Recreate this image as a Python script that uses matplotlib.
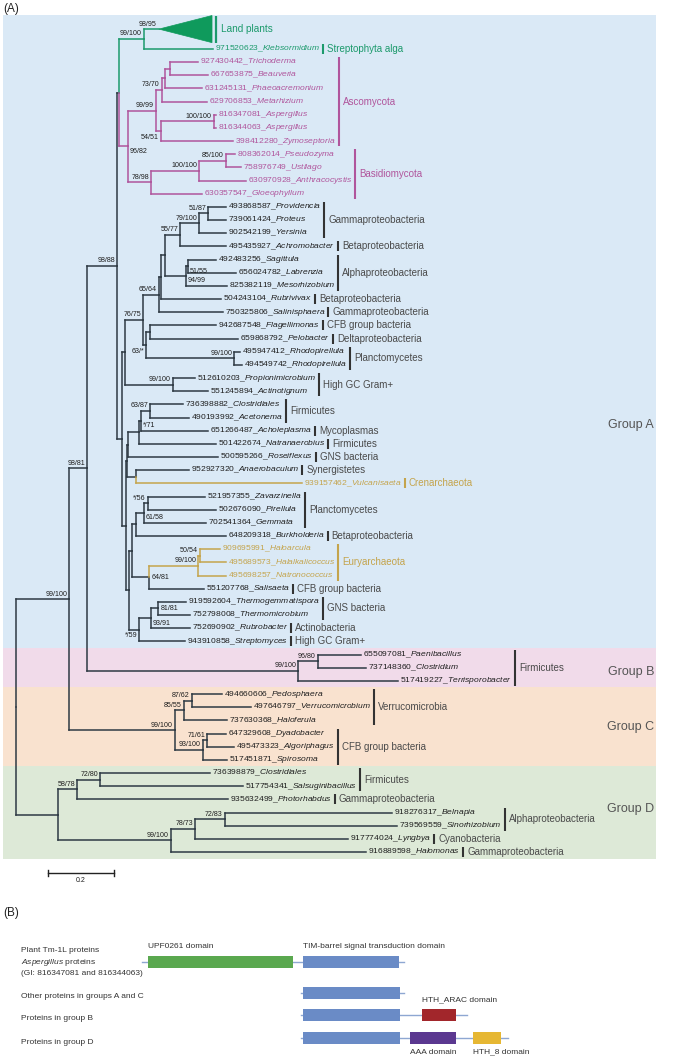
import matplotlib
matplotlib.use("Agg")
import matplotlib.pyplot as plt
from matplotlib.patches import Rectangle, Polygon
from matplotlib.collections import LineCollection
from collections import defaultdict

plt.rcParams["font.family"] = ["Liberation Sans", "DejaVu Sans"]
plt.rcParams["mathtext.fontset"] = "custom"
plt.rcParams["mathtext.rm"] = "Liberation Sans"
plt.rcParams["mathtext.it"] = "Liberation Sans:italic"

# ============================ DATA ============================
# Leaves, top to bottom (accession, genus), parent node and cumulative distance from root
leaf_acc = ["Land plants", "971520623", "927430442", "667653875", "631245131", "629706853",
            "816347081", "816344063", "398412280", "808362014", "758976749", "630970928",
            "630357547", "493868587", "739061424", "902542199", "495435927", "492483256",
            "656024782", "825382119", "504243104", "750325806", "942687548", "659868792",
            "495947412", "494549742", "512610203", "551245894", "736398882", "490193992",
            "651266487", "501422674", "500595266", "952927320", "939157462", "521957355",
            "502676090", "702541364", "648209318", "909695991", "495689573", "495698257",
            "551207768", "919592604", "752798008", "752690902", "943910858", "655097081",
            "737148360", "517419227", "494660606", "497646797", "737630368", "647329608",
            "495473323", "517451871", "736398879", "517754341", "935632499", "918276317",
            "739569559", "917774024", "916889598"]
leaf_genus = ["Land plants", "Klebsormidium", "Trichoderma", "Beauveria", "Phaeoacremonium",
              "Metarhizium", "Aspergillus", "Aspergillus", "Zymoseptoria", "Pseudozyma",
              "Ustilago", "Anthracocystis", "Gloeophyllum", "Providencia", "Proteus", "Yersinia",
              "Achromobacter", "Sagittula", "Labrenzia", "Mesorhizobium", "Rubrivivax",
              "Salinisphaera", "Flagellimonas", "Pelobacter", "Rhodopirellula", "Rhodopirellula",
              "Propionimicrobium", "Actinotignum", "Clostridiales", "Acetonema", "Acholeplasma",
              "Natranaerobius", "Roseiflexus", "Anaerobaculum", "Vulcanisaeta", "Zavarzinella",
              "Pirellula", "Gemmata", "Burkholderia", "Haloarcula", "Halalkalicoccus",
              "Natronococcus", "Salisaeta", "Thermogemmatispora", "Thermomicrobium",
              "Rubrobacter", "Streptomyces", "Paenibacillus", "Clostridium", "Terrisporobacter",
              "Pedosphaera", "Verrucomicrobium", "Haloferula", "Dyadobacter", "Algoriphagus",
              "Spirosoma", "Clostridiales", "Salsuginibacillus", "Photorhabdus", "Belnapia",
              "Sinorhizobium", "Lyngbya", "Halomonas"]
leaf_parent = ["P", "P", "TB", "TB", "TBP", "TBPM", "Asp", "Asp", "AspZ", "PU", "PU", "Bas2",
               "Bas", "G51", "G51", "G79", "G55", "AlphaSub", "AlphaSub", "Alpha", "N2", "N3",
               "FP", "FP", "Rh", "Rh", "Prop", "Prop", "Firm", "Firm", "Na", "Nb", "Nc", "AV",
               "AV", "P56", "P56", "P61", "PlB", "HH", "HH", "Halo", "H64", "T81", "T81", "T93",
               "S59", "B1", "B1", "B", "CV2", "CV2", "CV", "CF2", "CF2", "CF", "D1a", "D1a", "D1",
               "D2a1", "D2a1", "D2a", "D2"]
leaf_depth = [0.433, 0.597, 0.552, 0.582, 0.564, 0.579, 0.606, 0.606, 0.658, 0.664, 0.682,
              0.697, 0.564, 0.636, 0.636, 0.636, 0.636, 0.606, 0.667, 0.639, 0.621, 0.627,
              0.606, 0.673, 0.679, 0.685, 0.542, 0.582, 0.506, 0.524, 0.582, 0.606, 0.612,
              0.524, 0.867, 0.573, 0.606, 0.576, 0.636, 0.618, 0.636, 0.636, 0.570, 0.515,
              0.527, 0.527, 0.512, 1.045, 1.061, 1.158, 0.624, 0.712, 0.639, 0.636, 0.661,
              0.639, 0.588, 0.688, 0.642, 1.139, 1.155, 1.006, 1.061]
leaf_row = [-2.5] + list(range(-1, 61))
land_plants_crown = 0.594          # depth of the collapsed land-plant clade

# Internal nodes
node_ids = ["R", "ABC", "D", "AB", "C", "A", "B", "PF", "P", "F", "Asc", "TBPM", "TBP", "TB",
            "AspZ", "Asp", "Bas", "Bas2", "PU", "Bact", "T", "N4", "N3", "N2", "N1", "G55",
            "G79", "G51", "Alpha", "AlphaSub", "N63", "FP", "Rh", "Prop", "B2", "U", "Nc", "Nb",
            "Na", "Firm", "AV", "L", "Ne", "PlB", "P61", "P56", "H64", "Halo", "HH", "S59",
            "T93", "T81", "B1", "CV", "CV2", "CF", "CF2", "D1", "D1a", "D2", "D2a", "D2a1"]
node_parent = [None, "R", "R", "ABC", "ABC", "AB", "AB", "A", "PF", "PF", "F", "Asc", "TBPM",
               "TBP", "Asc", "AspZ", "F", "Bas", "Bas2", "A", "Bact", "T", "N4", "N3", "N2",
               "N1", "G55", "G79", "N1", "Alpha", "N4", "N63", "N63", "T", "Bact", "B2", "U",
               "Nc", "Nb", "Na", "U", "B2", "L", "Ne", "PlB", "P61", "Ne", "H64", "Halo", "L",
               "S59", "T93", "B", "C", "CV", "C", "CF", "D", "D1", "D", "D2", "D2a"]
node_depth = [0.0, 0.161, 0.127, 0.215, 0.482, 0.306, 0.855, 0.312, 0.388, 0.339, 0.424, 0.442,
              0.452, 0.467, 0.439, 0.600, 0.409, 0.555, 0.636, 0.321, 0.330, 0.385, 0.433,
              0.439, 0.452, 0.497, 0.555, 0.582, 0.515, 0.521, 0.394, 0.406, 0.661, 0.476,
              0.333, 0.336, 0.339, 0.373, 0.379, 0.406, 0.364, 0.342, 0.352, 0.364, 0.388,
              0.400, 0.403, 0.552, 0.558, 0.373, 0.409, 0.430, 0.915, 0.509, 0.533, 0.567,
              0.579, 0.185, 0.255, 0.470, 0.542, 0.633]
node_support = ["", "99/100", "", "98/81", "99/100", "98/88", "99/100", "", "99/100", "96/82",
                "99/99", "73/70", "", "", "54/51", "100/100", "78/98", "100/100", "85/100", "",
                "", "76/75", "65/64", "", "", "55/77", "79/100", "51/87", "94/99", "51/55",
                "63/*", "", "99/100", "99/100", "", "", "", "", "*/71", "63/87", "", "", "", "",
                "61/58", "*/56", "64/81", "99/100", "50/54", "*/59", "93/91", "81/81", "96/80",
                "85/55", "87/62", "93/100", "71/61", "58/78", "72/80", "99/100", "78/73", "72/83"]
land_plants_support = "98/95"

# Taxonomic annotations (label, first leaf, last leaf)
clade_names = ["Streptophyta alga", "Ascomycota", "Basidiomycota", "Gammaproteobacteria",
               "Betaproteobacteria", "Alphaproteobacteria", "Betaproteobacteria",
               "Gammaproteobacteria", "CFB group bacteria", "Deltaproteobacteria",
               "Planctomycetes", "High GC Gram+", "Firmicutes", "Mycoplasmas", "Firmicutes",
               "GNS bacteria", "Synergistetes", "Crenarchaeota", "Planctomycetes",
               "Betaproteobacteria", "Euryarchaeota", "CFB group bacteria", "GNS bacteria",
               "Actinobacteria", "High GC Gram+", "Firmicutes", "Verrucomicrobia",
               "CFB group bacteria", "Firmicutes", "Gammaproteobacteria", "Alphaproteobacteria",
               "Cyanobacteria", "Gammaproteobacteria"]
clade_first = ["971520623", "927430442", "808362014", "493868587", "495435927", "492483256",
               "504243104", "750325806", "942687548", "659868792", "495947412", "512610203",
               "736398882", "651266487", "501422674", "500595266", "952927320", "939157462",
               "521957355", "648209318", "909695991", "551207768", "919592604", "752690902",
               "943910858", "655097081", "494660606", "647329608", "736398879", "935632499",
               "918276317", "917774024", "916889598"]
clade_last = ["971520623", "398412280", "630357547", "902542199", "495435927", "825382119",
              "504243104", "750325806", "942687548", "659868792", "494549742", "551245894",
              "490193992", "651266487", "501422674", "500595266", "952927320", "939157462",
              "702541364", "648209318", "495698257", "551207768", "752798008", "752690902",
              "943910858", "517419227", "737630368", "517451871", "517754341", "935632499",
              "739569559", "917774024", "916889598"]

group_names = ["Group A", "Group B", "Group C", "Group D"]
group_first = ["Land plants", "655097081", "494660606", "736398879"]
group_last = ["943910858", "517419227", "517451871", "916889598"]

scale_length = 0.2

# Panel B: domain architectures
arch_labels = ["Plant Tm-1L proteins\n$\\mathit{Aspergillus}$ proteins\n(GI: 816347081 and 816344063)",
               "Other proteins in groups A and C", "Proteins in group B", "Proteins in group D"]
arch_start = [142, 301, 301, 301]
arch_end = [404, 404, 467, 508]
dom_row = [0, 0, 1, 2, 2, 3, 3, 3]
dom_start = [148, 303, 303, 303, 422, 303, 410, 473]
dom_end = [293, 399, 400, 400, 456, 400, 456, 501]
dom_name = ["UPF0261 domain", "TIM-barrel signal transduction domain", "", "",
            "HTH_ARAC domain", "", "AAA domain", "HTH_8 domain"]
dom_kind = ["UPF", "TIM", "TIM", "TIM", "ARAC", "TIM", "AAA", "HTH8"]

# ============================ STYLE ============================
BLACK = "#2e3a44"
GREEN = "#1c9a6c"
PINK = "#b0559c"
GOLD = "#c4a44c"
TXT = "#1e1e1e"
GREY = "#4a4a4a"
band_colors = ["#dae9f6", "#f1dbea", "#f9e2cf", "#dde9d7"]
dom_colors = {"UPF": "#5aa84f", "TIM": "#6a8bc6", "ARAC": "#a2262b", "AAA": "#5b3890",
              "HTH8": "#e6b733"}
clade_root_color = {"P": GREEN, "F": PINK, "Halo": GOLD, "939157462": GOLD}
support_side = {"96/82": "rb", "54/51": "lb", "94/99": "rb", "51/55": "rb", "63/*": "lb",
                "*/71": "rb", "61/58": "rb", "64/81": "r", "93/91": "rb", "81/81": "r",
                "*/59": "lb"}

W, H, DPI = 685, 1060, 100
fig = plt.figure(figsize=(W / DPI, H / DPI), dpi=DPI)
ax = fig.add_axes([0, 0, 1, 1])
root_px, px_per_unit = 16, 330
row0_px, row_px = 62, 13.167
ax.set_xlim(-root_px / px_per_unit, (W - root_px) / px_per_unit)
ax.set_ylim((H - row0_px) / row_px, -row0_px / row_px)
ax.axis("off")

# ---- tree geometry ----
depth = dict(zip(leaf_acc, leaf_depth))
depth.update(zip(node_ids, node_depth))
ypos = dict(zip(leaf_acc, leaf_row))
children = defaultdict(list)
for n, p in zip(node_ids, node_parent):
    if p:
        children[p].append(n)
for n, p in zip(leaf_acc, leaf_parent):
    children[p].append(n)


def get_y(n):
    if n not in ypos:
        ys = [get_y(c) for c in children[n]]
        ypos[n] = (min(ys) + max(ys)) / 2
    return ypos[n]


get_y("R")
color = {}


def assign(n, c):
    c = clade_root_color.get(n, c)
    color[n] = c
    for ch in children[n]:
        assign(ch, c)


assign("R", BLACK)

# ---- background bands ----
band_x0, band_x1 = -13 / px_per_unit, 640 / px_per_unit
for i, (g, f, l) in enumerate(zip(group_names, group_first, group_last)):
    top = ypos[f] - (1.07 if f == "Land plants" else 0.5)
    bot = ypos[l] + 0.5
    ax.add_patch(Rectangle((band_x0, top), band_x1 - band_x0, bot - top,
                           facecolor=band_colors[i], edgecolor="none", zorder=0))
group_label_rows = [27.6, 46.3, 50.5, 56.7]
for g, r in zip(group_names, group_label_rows):
    ax.annotate(g, xy=(band_x1, r), xytext=(-2, 0), textcoords="offset pixels",
                ha="right", va="center", fontsize=9, color="#555555")

# ---- branches ----
segs = defaultdict(list)
for n in node_ids:
    x, y = depth[n], ypos[n]
    for c in children[n]:
        segs[color[c]].append([(x, ypos[c]), (depth[c], ypos[c])])
        segs[color[c]].append([(x, y), (x, ypos[c])])
for c, s in segs.items():
    ax.add_collection(LineCollection(s, colors=c, linewidths=1.1, capstyle="projecting",
                                     zorder=3))

# collapsed land plants
lp = ypos["Land plants"]
ax.add_patch(Polygon([(depth["Land plants"], lp), (land_plants_crown, lp - 1.03),
                      (land_plants_crown, lp + 1.03)], closed=True, facecolor="#0f9a5c",
                     edgecolor="#0f9a5c", lw=0.5, zorder=4))
tr = ax.transData
inv = tr.inverted()


def shift_x(xd, dpx):
    p = tr.transform((xd, 0))
    return inv.transform((p[0] + dpx, 0))[0]


bx = shift_x(land_plants_crown, 4)
ax.plot([bx, bx], [lp - 1.03, lp + 1.03], color=GREEN, lw=1.6, solid_capstyle="butt", zorder=4)
ax.annotate("Land plants", xy=(bx, lp), xytext=(5, 0), textcoords="offset pixels",
            ha="left", va="center", fontsize=7.2, color=GREEN)

# ---- leaf labels ----
leaf_text = {}
for acc, g in zip(leaf_acc, leaf_genus):
    if acc == "Land plants":
        continue
    c = color[acc]
    tc = TXT if c == BLACK else c
    t = ax.annotate(f"{acc}_$\\mathit{{{g}}}$", xy=(depth[acc], ypos[acc]), xytext=(2, 0),
                    textcoords="offset pixels", ha="left", va="center", fontsize=6.1,
                    color=tc, zorder=5)
    leaf_text[acc] = t

# ---- support values ----
offs = {"l": ((-2, 5), "right"), "lb": ((-2, -6), "right"), "r": ((3, 0), "left"),
        "rb": ((2, -5), "left")}
sup = list(zip(node_ids, node_support)) + [("Land plants", land_plants_support)]
for n, s in sup:
    if not s:
        continue
    (dx, dy), ha = offs[support_side.get(s, "l")]
    ax.annotate(s, xy=(depth[n], ypos[n]), xytext=(dx, dy), textcoords="offset pixels",
                ha=ha, va="center", fontsize=5.1, color=TXT, zorder=5)

# ---- clade bars ----
fig.canvas.draw()
rend = fig.canvas.get_renderer()
for name, f, l in zip(clade_names, clade_first, clade_last):
    i0, i1 = leaf_acc.index(f), leaf_acc.index(l)
    right = max(leaf_text[a].get_window_extent(rend).x1 for a in leaf_acc[i0:i1 + 1])
    xb = inv.transform((right + 3, 0))[0]
    c = color[f]
    bc = "#333333" if c == BLACK else c
    tc = GREY if c == BLACK else c
    y0, y1 = ypos[f] - 0.38, ypos[l] + 0.38
    ax.plot([xb, xb], [y0, y1], color=bc, lw=1.5, solid_capstyle="butt", zorder=4)
    ax.annotate(name, xy=(xb, (ypos[f] + ypos[l]) / 2), xytext=(4, 0),
                textcoords="offset pixels", ha="left", va="center", fontsize=7, color=tc)

# ---- scale bar ----
sb_x0 = 32 / px_per_unit
sb_row = 61.6
ax.plot([sb_x0, sb_x0 + scale_length], [sb_row, sb_row], color="#222222", lw=1.0)
for xx in (sb_x0, sb_x0 + scale_length):
    ax.plot([xx, xx], [sb_row - 0.25, sb_row + 0.25], color="#222222", lw=1.0)
ax.annotate(f"{scale_length}", xy=(sb_x0 + scale_length / 2, sb_row), xytext=(0, -7),
            textcoords="offset pixels", ha="center", va="center", fontsize=5, color=TXT)

fig.text(3 / W, 1 - 9 / H, "(A)", ha="left", va="center", fontsize=8.5, color="#222222")
fig.text(3 / W, 1 - 913 / H, "(B)", ha="left", va="center", fontsize=8.5, color="#222222")

# ============================ PANEL B ============================
axb = fig.add_axes([0, 0, 1, 1], facecolor="none")
axb.set_xlim(0, W)
axb.set_ylim(H, 0)
axb.axis("off")
arch_y = [962, 993, 1015, 1038]
label_y = [962, 996, 1018, 1043]
box_h = 12
for i, lab in enumerate(arch_labels):
    axb.text(21, label_y[i], lab, ha="left", va="center", fontsize=6, color="#333333",
             linespacing=1.45)
    axb.plot([arch_start[i], arch_end[i]], [arch_y[i], arch_y[i]], color="#8ea7d2", lw=1.0,
             zorder=1)
for r, s, e, nm, k in zip(dom_row, dom_start, dom_end, dom_name, dom_kind):
    yc = arch_y[r]
    axb.add_patch(Rectangle((s, yc - box_h / 2), e - s, box_h, facecolor=dom_colors[k],
                            edgecolor="none", zorder=2))
    if nm:
        below = r == 3
        ty = yc + box_h / 2 + 8 if below else yc - box_h / 2 - 9
        axb.text(s, ty, nm, ha="left", va="center", fontsize=6, color="#333333")

fig.savefig("out.png", dpi=DPI)
